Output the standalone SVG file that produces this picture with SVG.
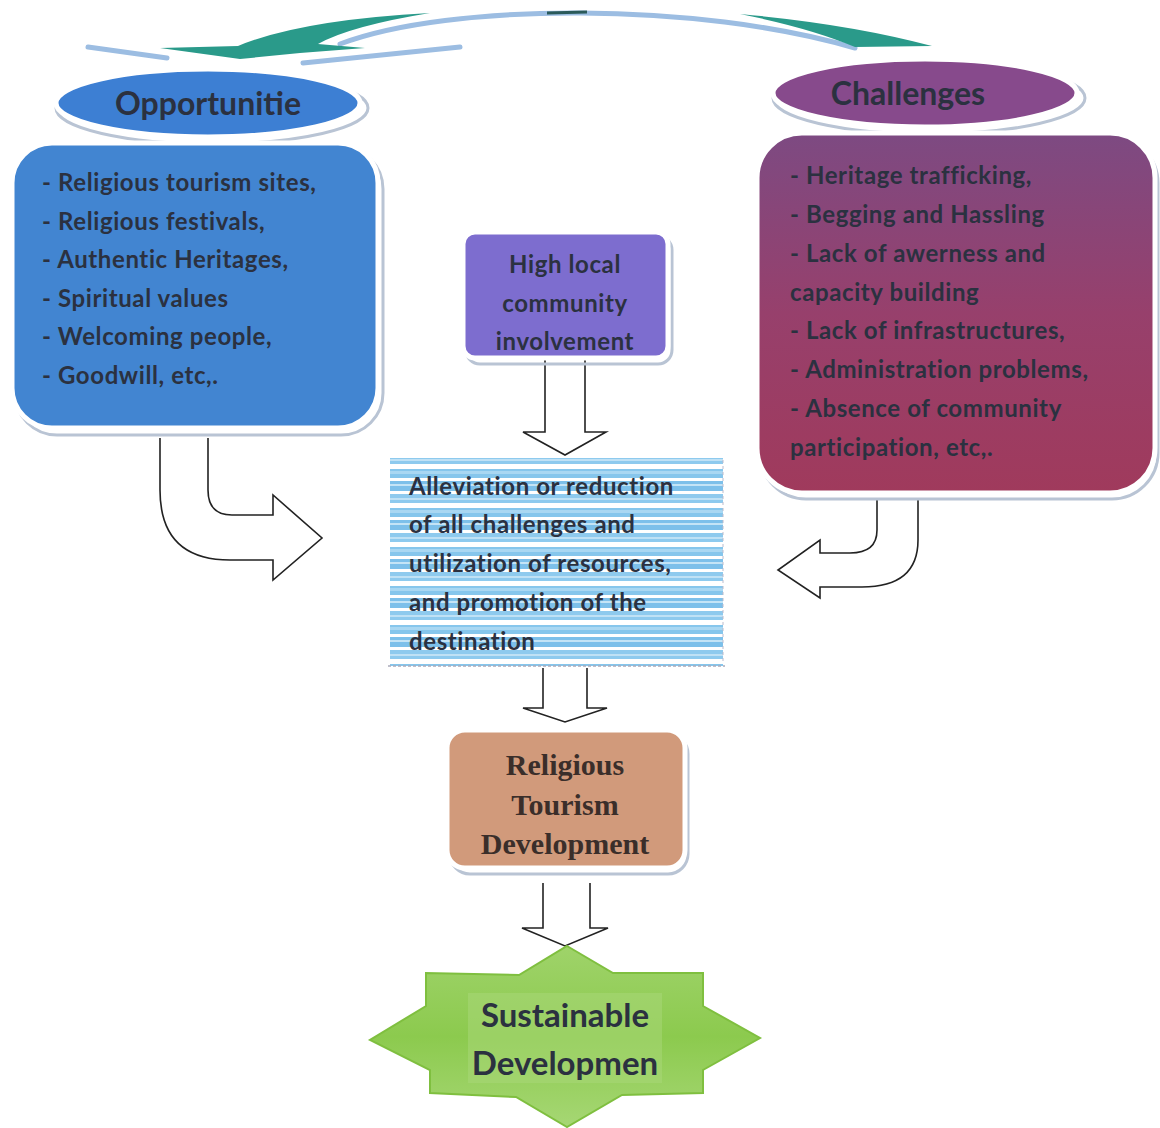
<svg xmlns="http://www.w3.org/2000/svg" width="1160" height="1128" viewBox="0 0 1160 1128">
<defs>
<style>
.t{font-family:Lato,"Open Sans","Liberation Sans",sans-serif;font-weight:bold;fill:#2b3140}
.b{font-size:24px;letter-spacing:0.6px}
.ser{font-family:"Liberation Serif","Times New Roman",serif;font-weight:bold;fill:#3a2e2a}
.arr{fill:#fff;stroke:#222;stroke-width:1.6;stroke-linejoin:miter}
.frame{stroke:#fff;stroke-width:5}
.shadow{fill:none;stroke:#b9c4d4;stroke-width:3}
.lb{fill:none;stroke:#9cbde2;stroke-width:5;stroke-linecap:round}
.teal{fill:#2a9a8a}
</style>
<linearGradient id="gMar" x1="0" y1="0" x2="0" y2="1">
<stop offset="0" stop-color="#7d4a82"/><stop offset="0.5" stop-color="#97406c"/><stop offset="1" stop-color="#a03a5c"/>
</linearGradient>
<linearGradient id="gGreen" x1="0" y1="0" x2="0" y2="1">
<stop offset="0" stop-color="#9fd36a"/><stop offset="0.5" stop-color="#8cca4e"/><stop offset="1" stop-color="#a6d774"/>
</linearGradient>
<pattern id="streak" width="60" height="39" patternUnits="userSpaceOnUse">
<rect width="60" height="39" fill="#ffffff"/>
<rect y="1" width="60" height="9" fill="#86c6ec"/>
<rect y="3" width="60" height="3" fill="#a9d7f2"/>
<rect y="13" width="60" height="10" fill="#7dc0ea"/>
<rect y="16" width="60" height="2" fill="#c4e4f6"/>
<rect y="26" width="60" height="9" fill="#8ecaee"/>
<rect y="30" width="60" height="2" fill="#bfe1f5"/>
</pattern>
</defs>

<g id="connectors">
<path class="lb" d="M340,44 C450,2 700,2 855,48"/>
<path d="M547,13 L587,12" stroke="#2a5a5a" stroke-width="3"/>
<path class="lb" d="M88,47 L167,58"/>
<path class="lb" d="M303,63 L460,47"/>
<path class="teal" d="M740,14 Q850,24 932,46 L855,47 Q810,28 740,14 Z"/>
<path class="teal" d="M160,48 L238,46 Q300,20 430,13 Q350,26 318,44 L365,48 L300,53 L240,59 Z"/>
<path class="arr" d="M160,438 L160,490 Q160,560 230,560 L273,560 L273,580 L322,538 L273,495 L273,515 L232,515 Q208,515 208,490 L208,438"/>
<path class="arr" d="M877,500 L877,530 Q877,553 850,553 L820,553 L820,540 L778,570 L820,598 L820,587 L862,587 Q918,587 918,540 L918,500"/>
<path class="arr" d="M545,360 L545,432 L523,432 L565,455 L606,432 L585,432 L585,360"/>
<path class="arr" d="M543,668 L543,708 L523,708 L565,722 L607,708 L587,708 L587,668"/>
<path class="arr" d="M543,883 L543,928 L522,928 L565,946 L608,928 L590,928 L590,883"/>
</g>

<g id="opportunities-title">
<ellipse cx="212" cy="108" rx="156" ry="36" class="shadow"/>
<ellipse cx="208" cy="103" rx="152" ry="34" fill="#3d7fd3" class="frame"/>
<text class="t" x="208" y="115" font-size="32" text-anchor="middle">Opportunitie</text>
</g>

<g id="challenges-title">
<ellipse cx="929" cy="98" rx="156" ry="36" class="shadow"/>
<ellipse cx="925" cy="93" rx="152" ry="34" fill="#874a8c" class="frame"/>
<text class="t" x="908" y="105" font-size="32" text-anchor="middle">Challenges</text>
</g>

<g id="opportunities">
<rect x="15" y="147" width="368" height="288" rx="42" class="shadow"/>
<rect x="12" y="143" width="366" height="285" rx="40" fill="#4285d1" class="frame"/>
<g class="t b">
<text x="42" y="191">- Religious tourism sites,</text>
<text x="42" y="230">- Religious festivals,</text>
<text x="42" y="268">- Authentic Heritages,</text>
<text x="42" y="307">- Spiritual values</text>
<text x="42" y="345">- Welcoming people,</text>
<text x="42" y="384">- Goodwill, etc,.</text>
</g>
</g>

<g id="challenges">
<rect x="760" y="137" width="398" height="362" rx="46" class="shadow"/>
<rect x="757" y="133" width="398" height="360" rx="45" fill="url(#gMar)" class="frame"/>
<g class="t b">
<text x="790" y="184">- Heritage trafficking,</text>
<text x="790" y="223">- Begging and Hassling</text>
<text x="790" y="262">- Lack of awerness and</text>
<text x="790" y="301">capacity building</text>
<text x="790" y="339">- Lack of infrastructures,</text>
<text x="790" y="378">- Administration problems,</text>
<text x="790" y="417">- Absence of community</text>
<text x="790" y="456">participation, etc,.</text>
</g>
</g>

<g id="community">
<rect x="466" y="236" width="206" height="128" rx="14" class="shadow"/>
<clipPath id="cpC"><rect x="463" y="232" width="205" height="126" rx="12"/></clipPath>
<rect x="463" y="232" width="205" height="126" rx="12" fill="#7d6dcf" class="frame"/>
<g class="t b" text-anchor="middle" clip-path="url(#cpC)">
<text x="565" y="273">High local</text>
<text x="565" y="312">community</text>
<text x="565" y="350">involvement</text>
</g>
</g>

<g id="alleviation">
<clipPath id="cpA"><rect x="390" y="458" width="333" height="198"/></clipPath>
<rect x="390" y="458" width="333" height="208" fill="url(#streak)"/>
<line x1="388" y1="666" x2="725" y2="666" stroke="#aab" stroke-width="1.5" stroke-dasharray="3 2"/>
<line x1="723" y1="460" x2="723" y2="664" stroke="#bbc" stroke-width="1" stroke-dasharray="3 3"/>
<g class="t b" clip-path="url(#cpA)">
<text x="409" y="495">Alleviation or reduction</text>
<text x="409" y="533">of all challenges and</text>
<text x="409" y="572">utilization of resources,</text>
<text x="409" y="611">and promotion of the</text>
<text x="409" y="650">destination</text>
</g>
</g>

<g id="religious-tourism">
<rect x="450" y="734" width="238" height="140" rx="20" class="shadow" stroke="#d8b8c8"/>
<rect x="447" y="730" width="238" height="138" rx="18" fill="#d19a7b" class="frame"/>
<g class="ser" font-size="30" text-anchor="middle">
<text x="565" y="775">Religious</text>
<text x="565" y="815">Tourism</text>
<text x="565" y="854">Development</text>
</g>
</g>

<g id="sustainable">
<polygon points="567,946 613,973 703,973 703,1006 760,1038 703,1070 703,1093 622,1095 567,1127 516,1097 430,1093 430,1070 370,1040 426,1006 426,973 519,975" fill="url(#gGreen)" stroke="#7fbf3f" stroke-width="2"/>
<rect x="468" y="993" width="194" height="90" fill="#a9d87a" opacity="0.5"/>
<g class="t" font-size="33" text-anchor="middle">
<text x="565" y="1027">Sustainable</text>
<text x="565" y="1075">Developmen</text>
</g>
</g>
</svg>
